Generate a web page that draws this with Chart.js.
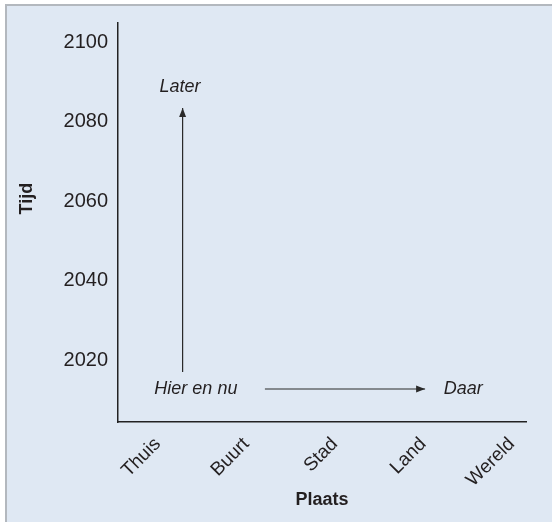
<!DOCTYPE html>
<html>
<head>
<meta charset="utf-8">
<script src="https://cdn.jsdelivr.net/npm/chart.js@4"></script>
<style>
    body { margin: 0; background: #ffffff; overflow: hidden; }
    #fond {
        position: absolute; left: 5px; top: 4px; width: 600px; height: 600px;
        background: #dfe8f3; border-left: 2px solid #b3b8be; border-top: 2px solid #b3b8be;
    }
    #cadre { position: absolute; left: 0; top: 0; width: 552px; height: 522px; }
</style>
</head>
<body>
<div id="fond"></div>
<div id="cadre"><canvas id="graphique"></canvas></div>
<script>
// Données du graphique
const categories = ["Thuis", "Buurt", "Stad", "Land", "Wereld"];
const ticksAnnees = [2020, 2040, 2060, 2080, 2100];

// Flèches (en coordonnées de données : indice de catégorie, année)
const flecheTemps = [{ x: 0.28, y: 2017 }, { x: 0.28, y: 2083.4 }];
const flecheLieu = [{ x: 1.21, y: 2012.7 }, { x: 3.02, y: 2012.7 }];

// Textes posés sur le graphique
const textes = ["Later", "Hier en nu", "Daar"];
const textesX = [0.25, 0.43, 3.45];
const textesY = [2088.7, 2012.7, 2012.7];

const couleurTexte = "#231f20";
const police = "'Liberation Sans', Arial, sans-serif";

// Plugin pour dessiner les pointes de flèches, les textes et le titre vertical
const pluginAnnotations = {
    id: "annotations",
    afterDatasetsDraw(chart) {
        const ctx = chart.ctx;
        const sx = chart.scales.x;
        const sy = chart.scales.y;

        // pointes des flèches
        [flecheTemps, flecheLieu].forEach((fleche) => {
            const a = fleche[fleche.length - 2];
            const b = fleche[fleche.length - 1];
            const x1 = sx.getPixelForValue(a.x), y1 = sy.getPixelForValue(a.y);
            const x2 = sx.getPixelForValue(b.x), y2 = sy.getPixelForValue(b.y);
            const angle = Math.atan2(y2 - y1, x2 - x1);
            ctx.save();
            ctx.translate(x2, y2);
            ctx.rotate(angle);
            ctx.beginPath();
            ctx.moveTo(0, 0);
            ctx.lineTo(-9, -3.5);
            ctx.lineTo(-9, 3.5);
            ctx.closePath();
            ctx.fillStyle = "#2a2a2a";
            ctx.fill();
            ctx.restore();
        });

        // textes en italique
        ctx.save();
        ctx.font = "italic 18px " + police;
        ctx.fillStyle = couleurTexte;
        ctx.textAlign = "center";
        ctx.textBaseline = "middle";
        for (let i = 0; i < textes.length; i++) {
            ctx.fillText(textes[i], sx.getPixelForValue(textesX[i]), sy.getPixelForValue(textesY[i]));
        }
        ctx.restore();

        // titre de l'axe vertical
        const area = chart.chartArea;
        ctx.save();
        ctx.translate(27, area.top + (area.bottom - area.top) * 0.44);
        ctx.rotate(-Math.PI / 2);
        ctx.font = "bold 18px " + police;
        ctx.fillStyle = couleurTexte;
        ctx.textAlign = "center";
        ctx.textBaseline = "middle";
        ctx.fillText("Tijd", 0, 0);
        ctx.restore();
    },
};

const canvasGraphique = document.getElementById("graphique");
const graphique = new Chart(canvasGraphique, {
    type: "line",
    data: {
        datasets: [
            {
                data: flecheTemps,
                borderColor: "#2a2a2a",
                borderWidth: 1.2,
                pointRadius: 0,
                fill: false,
            },
            {
                data: flecheLieu,
                borderColor: "#2a2a2a",
                borderWidth: 1.2,
                pointRadius: 0,
                fill: false,
            },
        ],
    },
    options: {
        responsive: true,
        maintainAspectRatio: false,
        animation: false,
        layout: { padding: { top: 23, right: 26, bottom: 0, left: 0 } },
        plugins: {
            legend: { display: false },
            tooltip: { enabled: false },
        },
        scales: {
            x: {
                type: "linear",
                min: -0.45,
                max: 4.16,
                grid: { display: false, drawTicks: false },
                border: { display: true, color: "#222222", width: 1.5 },
                afterBuildTicks: (scale) => {
                    scale.ticks = categories.map((c, i) => ({ value: i }));
                },
                afterFit: (scale) => {
                    scale.height = 100;
                },
                ticks: {
                    minRotation: 45,
                    maxRotation: 45,
                    padding: 11,
                    color: couleurTexte,
                    font: { family: police, size: 19 },
                    callback: (value) => categories[value],
                },
                title: {
                    display: true,
                    text: "Plaats",
                    color: couleurTexte,
                    font: { family: police, size: 18, weight: "bold" },
                    padding: { top: 0, bottom: 11 },
                },
            },
            y: {
                min: 2004.4,
                max: 2104.8,
                grid: { display: false, drawTicks: false },
                border: { display: true, color: "#222222", width: 1.5 },
                afterBuildTicks: (scale) => {
                    scale.ticks = ticksAnnees.map((v) => ({ value: v }));
                },
                afterFit: (scale) => {
                    scale.width = 118;
                },
                ticks: {
                    padding: 10,
                    color: couleurTexte,
                    font: { family: police, size: 20 },
                    callback: (value) => String(value),
                },
            },
        },
    },
    plugins: [pluginAnnotations],
});
</script>
</body>
</html>
